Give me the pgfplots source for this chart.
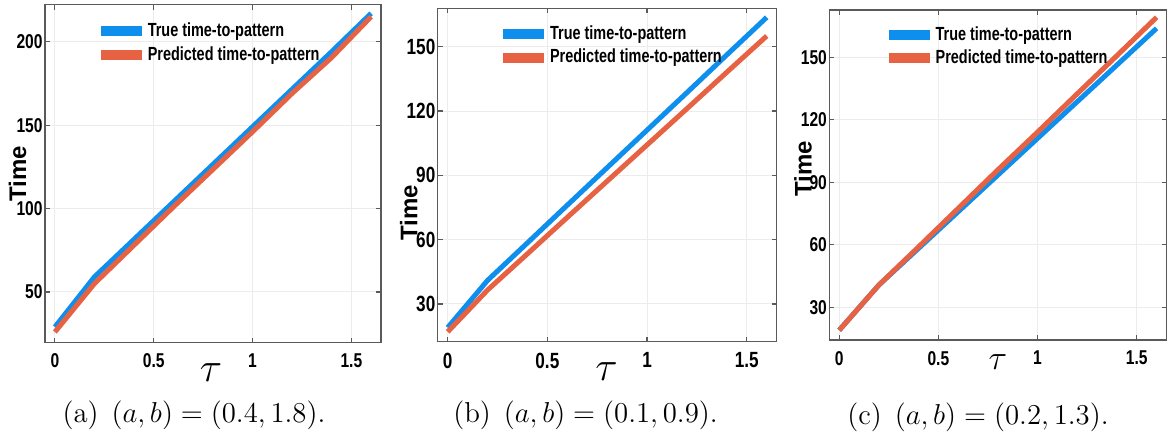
\documentclass[border=0pt]{standalone}
\usepackage{fontspec}
\usepackage{pgfplots}
\pgfplotsset{compat=1.18}
\newfontfamily\hv[FakeStretch=0.78]{Liberation Sans}
\newfontfamily\hvl[FakeStretch=0.76]{Liberation Sans}
\newfontfamily\hvn{Liberation Sans}
\definecolor{tblue}{RGB}{14,143,238}
\definecolor{pred}{RGB}{231,98,66}
\definecolor{gridc}{RGB}{236,236,236}
\definecolor{framec}{RGB}{90,90,90}

\pgfplotsset{panel/.style={
  scale only axis, xmin=-0.05, xmax=1.65, xtick={0,0.5,1,1.5},
  axis line style={framec, line width=0.75pt},
  grid=major, major grid style={gridc, line width=0.5pt},
  tick style={framec, line width=0.6pt}, major tick length=2.5pt, tick align=inside,
  /pgf/number format/assume math mode=true,
  tick label style={font=\hv\bfseries\fontsize{10}{11}\selectfont},
  yticklabel style={inner xsep=1pt},
  xticklabel style={yshift=-2pt},
  legend cell align=left,
  legend image code/.code={\draw[#1, line width=5pt] (0pt,0pt) -- (20.5pt,0pt);},
  legend style={draw=none, fill=none, anchor=north west, inner sep=0pt, row sep=3.5pt,
    font=\hvl\bfseries\fontsize{9.5}{11}\selectfont, nodes={inner xsep=0.5pt, inner ysep=0pt}},
  every axis plot/.append style={line width=2.5pt, line join=round, no markers},
  xlabel={$\tau$}, ylabel={Time},
  ylabel style={font=\hvn\bfseries\fontsize{12}{12}\selectfont, anchor=center},
  xlabel style={anchor=center, font=\fontsize{20.74}{21}\selectfont},
}}

\begin{document}
\begin{tikzpicture}
\useasboundingbox (0,0) rectangle (585.5pt,217.5pt);

% (a)
\begin{axis}[panel, at={(22.5pt,46.25pt)}, anchor=south west, width=168pt, height=169pt,
  ymin=19.7, ymax=222.3, ytick={50,100,150,200},
  ylabel style={at={(axis description cs:-0.082,0.5)}},
  xlabel style={at={(axis description cs:0.494,-0.0875)}},
  legend style={at={(axis description cs:0.15,0.948)}}]
\addplot[tblue] coordinates {(0,29) (0.2,59) (0.4,81.5) (0.6,104) (0.8,126.5) (1.0,149) (1.2,171.5) (1.4,194) (1.6,217)};
\addplot[pred] coordinates {(0,26) (0.2,55) (0.4,78) (0.6,101) (0.8,123.5) (1.0,146) (1.2,169) (1.4,190.5) (1.6,215)};
\legend{True time-to-pattern, Predicted time-to-pattern}
\end{axis}

% (b)
\begin{axis}[panel, at={(218.85pt,46.65pt)}, anchor=south west, width=169.5pt, height=166.7pt,
  ymin=12.4, ymax=167.9, ytick={30,60,90,120,150},
  tick label style={font=\hv\bfseries\fontsize{11}{12}\selectfont},
  ylabel style={at={(axis description cs:-0.085,0.386)}},
  xlabel style={at={(axis description cs:0.498,-0.091)}},
  legend style={at={(axis description cs:0.177,0.95)}}]
\addplot[tblue] coordinates {(0,19) (0.2,41) (0.4,58.5) (0.6,76.1) (0.8,93.6) (1.0,111.1) (1.2,128.6) (1.4,146.2) (1.6,163.7)};
\addplot[pred] coordinates {(0,17) (0.2,36.5) (0.4,53.4) (0.6,70.4) (0.8,87.3) (1.0,104.2) (1.2,121.1) (1.4,138.1) (1.6,155)};
\legend{True time-to-pattern, Predicted time-to-pattern}
\end{axis}

% (c)
\begin{axis}[panel, at={(414.65pt,47.5pt)}, anchor=south west, width=168.6pt, height=165pt,
  ymin=14.3, ymax=172.7, ytick={30,60,90,120,150},
  ylabel style={at={(axis description cs:-0.078,0.518)}},
  xlabel style={at={(axis description cs:0.5,-0.068)}, font=\fontsize{17.28}{18}\selectfont},
  legend style={at={(axis description cs:0.16,0.952)}}]
\addplot[tblue] coordinates {(0,19) (0.2,40.7) (0.4,58.3) (0.6,75.9) (0.8,93.5) (1.0,111.1) (1.2,128.7) (1.4,146.3) (1.6,163.9)};
\addplot[pred] coordinates {(0,19) (0.2,40.7) (0.4,59) (0.6,77.5) (0.8,96) (1.0,114.1) (1.2,132.5) (1.4,150.8) (1.6,169.2)};
\legend{True time-to-pattern, Predicted time-to-pattern}
\end{axis}

\node[font=\fontsize{14.4}{16}\selectfont] at (97pt,10pt) {(a)\hspace{0.45em}$(a,b)=(0.4,1.8)$.};
\node[font=\fontsize{14.4}{16}\selectfont] at (292.75pt,10pt) {(b)\hspace{0.45em}$(a,b)=(0.1,0.9)$.};
\node[font=\fontsize{14.4}{16}\selectfont] at (489pt,9pt) {(c)\hspace{0.45em}$(a,b)=(0.2,1.3)$.};
\end{tikzpicture}
\end{document}
